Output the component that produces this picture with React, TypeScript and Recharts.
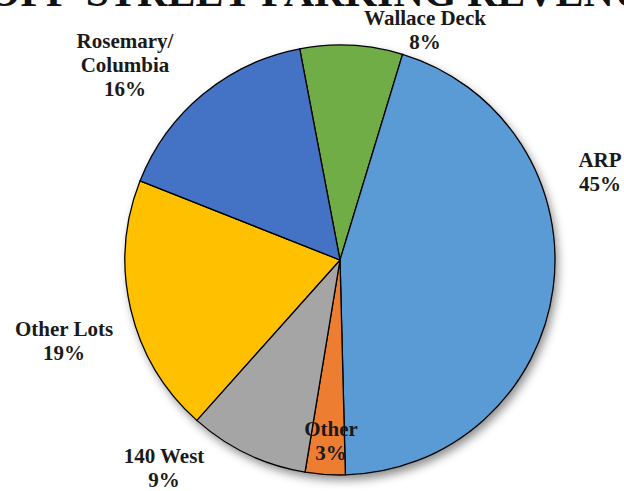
import React from "react";
import { PieChart, Pie, Cell } from "recharts";

const TITLE = "OFF-STREET PARKING REVENUE";

const names = ["Wallace Deck", "ARP", "Other", "140 West", "Other Lots", "Rosemary/ Columbia"];
const values = [7.7, 44.9, 3.0, 9.0, 19.4, 16.0];
const pctLabels = ["8%", "45%", "3%", "9%", "19%", "16%"];
const colors = ["#70AD47", "#5B9BD5", "#ED7D31", "#A5A5A5", "#FFC000", "#4472C4"];

// label placement (text centre x, first baseline y), like the hand-placed labels in the original
const LABEL_POS: Record<string, { x: number; y: number; lines: string[] }> = {
  "Wallace Deck": { x: 425, y: 25, lines: ["Wallace Deck"] },
  ARP: { x: 600, y: 167, lines: ["ARP"] },
  Other: { x: 331, y: 436, lines: ["Other"] },
  "140 West": { x: 164, y: 463, lines: ["140 West"] },
  "Other Lots": { x: 64, y: 336, lines: ["Other Lots"] },
  "Rosemary/ Columbia": { x: 125, y: 48, lines: ["Rosemary/", "Columbia"] },
};

const data = names.map((name, i) => ({ name, value: values[i], pct: pctLabels[i] }));

const FONT = "'Liberation Serif', 'Times New Roman', serif";

function renderLabel(props: any) {
  const { index } = props;
  const d = data[index];
  const pos = LABEL_POS[d.name];
  const lines = [...pos.lines, d.pct];
  return (
    <text
      key={d.name}
      x={pos.x}
      y={pos.y}
      textAnchor="middle"
      fontFamily={FONT}
      fontWeight="bold"
      fontSize={21}
      fill="#1a1a1a"
    >
      {lines.map((l, j) => (
        <tspan key={j} x={pos.x} dy={j === 0 ? 0 : 24}>
          {l}
        </tspan>
      ))}
    </text>
  );
}

export default function App() {
  return (
    <div style={{ position: "fixed", left: 0, top: 0, width: 624, height: 491, background: "#fff" }}>
      <PieChart width={624} height={491} margin={{ top: 0, right: 0, bottom: 0, left: 0 }}>
        <text
          x={330}
          y={6}
          textAnchor="middle"
          fontFamily={FONT}
          fontWeight="bold"
          fontSize={42}
          fill="#111"
        >
          {TITLE}
        </text>
        {/* soft shadow under the pie */}
        <Pie
          data={[{ name: "shadow", value: 1 }]}
          dataKey="value"
          cx={340}
          cy={260}
          outerRadius={215}
          startAngle={90}
          endAngle={-270}
          stroke="none"
          isAnimationActive={false}
          label={false}
          labelLine={false}
        >
          <Cell fill="#fff" style={{ filter: "drop-shadow(3px 5px 5px rgba(0,0,0,0.45))" }} />
        </Pie>
        <Pie
          data={data}
          dataKey="value"
          nameKey="name"
          cx={340}
          cy={260}
          outerRadius={215}
          startAngle={100.8}
          endAngle={-259.2}
          stroke="#000"
          strokeWidth={1.3}
          isAnimationActive={false}
          label={renderLabel}
          labelLine={false}
        >
          {data.map((d, i) => (
            <Cell key={d.name} fill={colors[i]} />
          ))}
        </Pie>
      </PieChart>
    </div>
  );
}
